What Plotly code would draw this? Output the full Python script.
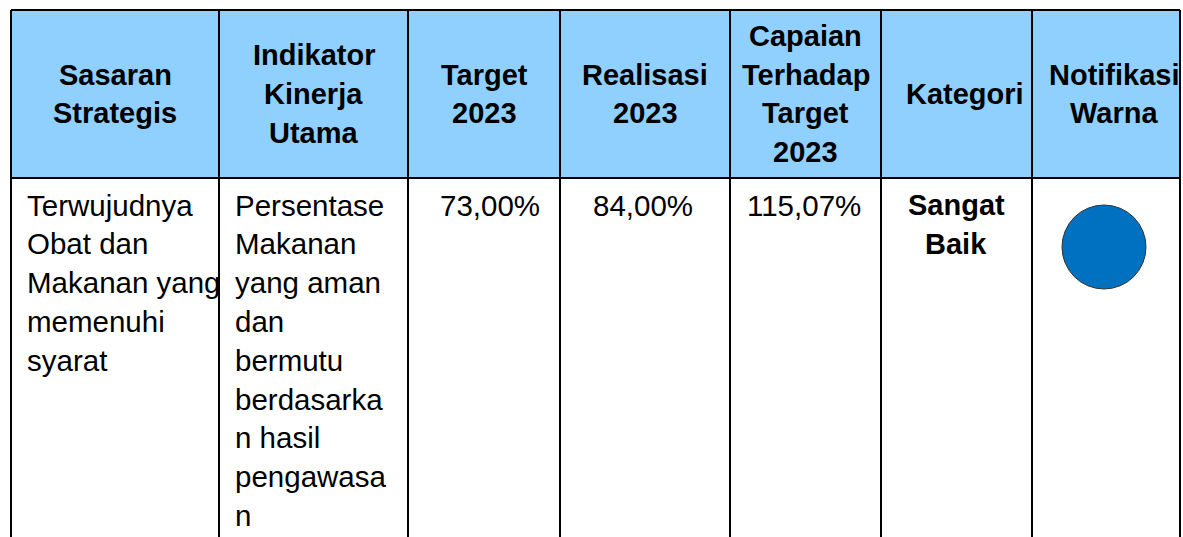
import plotly.graph_objects as go

# ---- data ----
col_edges = [11, 219, 408, 560, 730, 881, 1032, 1180]
header_lines = [
    ["Sasaran", "Strategis"],
    ["Indikator", "Kinerja", "Utama"],
    ["Target", "2023"],
    ["Realisasi", "2023"],
    ["Capaian", "Terhadap", "Target", "2023"],
    ["Kategori"],
    ["Notifikasi", "Warna"],
]
sasaran_lines = ["Terwujudnya", "Obat dan", "Makanan yang", "memenuhi", "syarat"]
indikator_lines = ["Persentase", "Makanan", "yang aman", "dan", "bermutu",
                   "berdasarka", "n hasil", "pengawasa", "n"]
target_2023 = ["73,00%"]
realisasi_2023 = ["84,00%"]
capaian_2023 = ["115,07%"]
kategori_lines = ["Sangat", "Baik"]
notifikasi_warna = "#0070C0"

W, H = 1183, 537
TOP, HEAD_BOTTOM = 10, 178
HEADER_FILL = "#90D0FF"
FONT = "Liberation Sans, Arial, sans-serif"
HFS = 29
BFS = 29.5
LINE = 38.8
HEAD_MID = 94
BODY_FIRST = 205

fig = go.Figure()
shapes = []
ann = []

# header background
shapes.append(dict(type="rect", x0=col_edges[0], x1=col_edges[-1], y0=TOP, y1=HEAD_BOTTOM,
                   xref="x", yref="y", fillcolor=HEADER_FILL, line=dict(width=0), layer="below"))
# horizontal lines
for yv in (TOP, HEAD_BOTTOM):
    shapes.append(dict(type="line", x0=col_edges[0], x1=col_edges[-1], y0=yv, y1=yv,
                       xref="x", yref="y", line=dict(color="black", width=2)))
# vertical lines
for xv in col_edges:
    shapes.append(dict(type="line", x0=xv, x1=xv, y0=TOP, y1=H + 5,
                       xref="x", yref="y", line=dict(color="black", width=2)))

header_centers = [(col_edges[i] + col_edges[i + 1]) / 2 for i in range(7)]
header_centers[5] = 965
header_centers[6] = 1114

for ci, lines in enumerate(header_lines):
    n = len(lines)
    for li, t in enumerate(lines):
        yv = HEAD_MID + (li - (n - 1) / 2) * LINE
        ann.append(dict(x=header_centers[ci], y=yv, text=f"<b>{t}</b>", showarrow=False,
                        xanchor="center", yanchor="middle",
                        font=dict(family=FONT, size=HFS, color="black")))

def body_lines(lines, x, anchor, bold=False):
    for li, t in enumerate(lines):
        ann.append(dict(x=x, y=BODY_FIRST + li * LINE, text=(f"<b>{t}</b>" if bold else t),
                        showarrow=False, xanchor=anchor, yanchor="middle",
                        font=dict(family=FONT, size=(HFS if bold else BFS), color="black")))

body_lines(sasaran_lines, 25, "left")
body_lines(indikator_lines, 233, "left")
body_lines(target_2023, 490, "center")
body_lines(realisasi_2023, 643, "center")
body_lines(capaian_2023, 804, "center")
body_lines(kategori_lines, 956, "center", bold=True)

fig.add_trace(go.Scatter(x=[1104], y=[247], mode="markers",
                         marker=dict(size=84, color=notifikasi_warna,
                                     line=dict(color="#333333", width=1)),
                         hoverinfo="skip", showlegend=False))

fig.update_layout(
    width=W, height=H, margin=dict(l=0, r=0, t=0, b=0),
    paper_bgcolor="white", plot_bgcolor="white",
    xaxis=dict(range=[0, W], visible=False, fixedrange=True),
    yaxis=dict(range=[H, 0], visible=False, fixedrange=True),
    shapes=shapes, annotations=ann, showlegend=False,
)
fig.write_html(
    "out.html",
    config={"displayModeBar": False},
    post_script="document.body.style.margin='0';document.documentElement.style.overflow='hidden';",
)
